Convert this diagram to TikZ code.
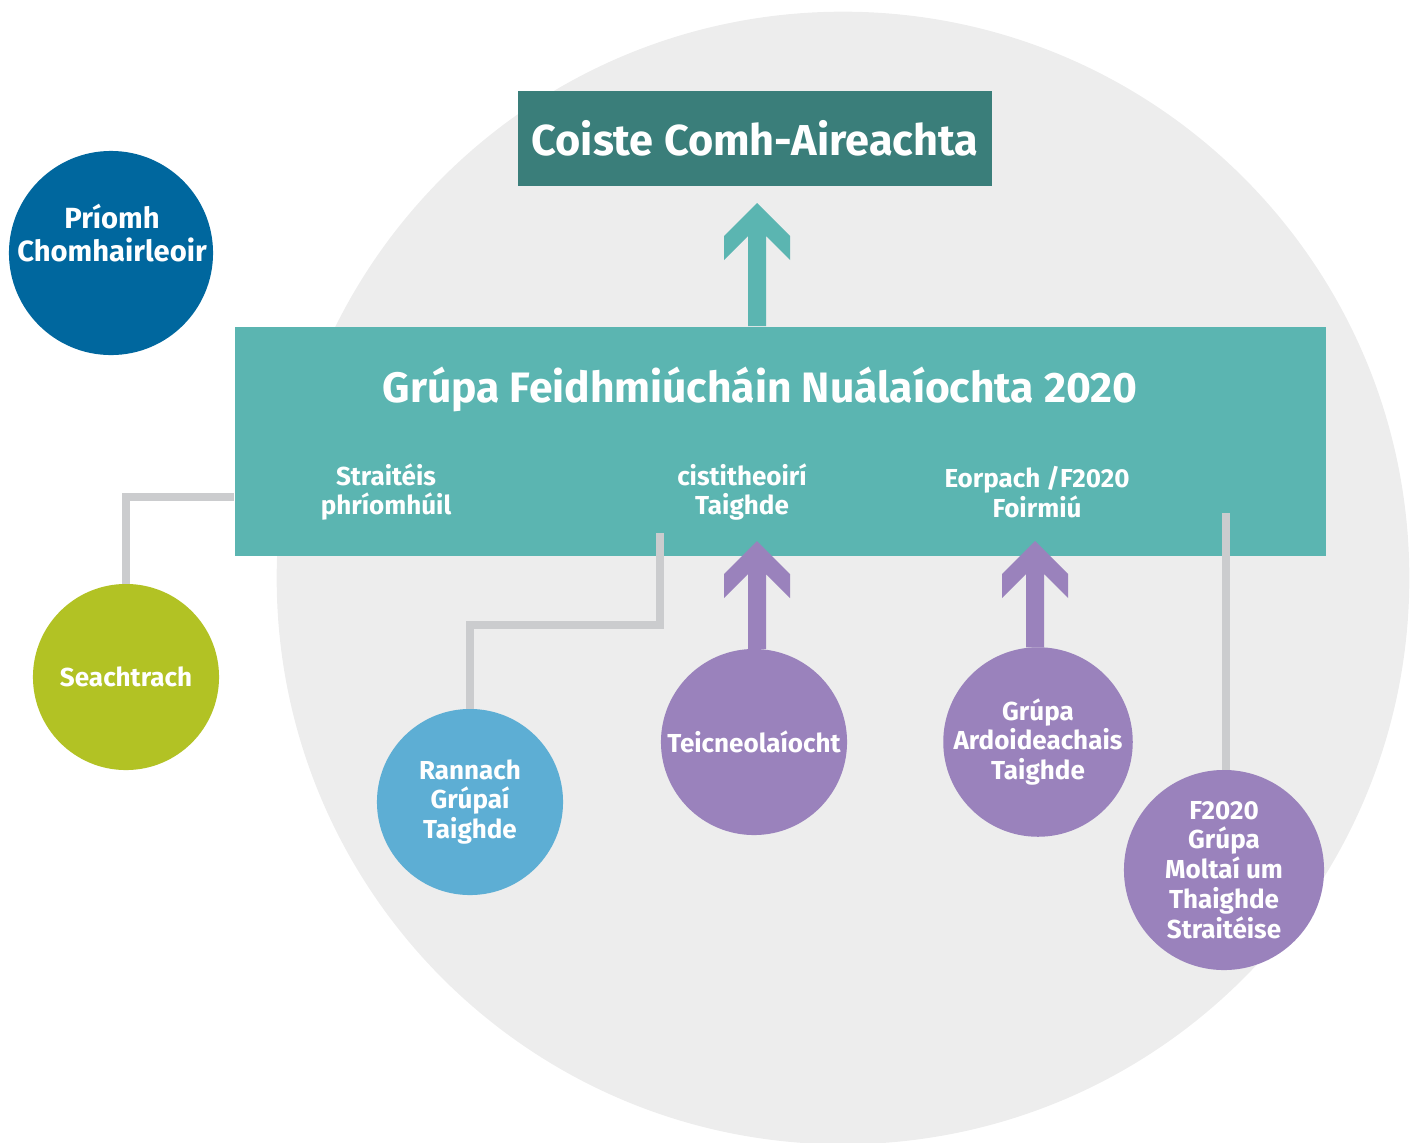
\documentclass[tikz,border=0pt]{standalone}
\usepackage{fontspec}
\setmainfont{Fira Sans}
\usetikzlibrary{calc}

\definecolor{tealbox}{HTML}{5BB5B1}
\definecolor{tealdark}{HTML}{3A7E7A}
\definecolor{purplec}{HTML}{9A82BC}
\definecolor{bluec}{HTML}{00679E}
\definecolor{skyc}{HTML}{5DAED4}
\definecolor{limec}{HTML}{B2C224}
\definecolor{bggray}{HTML}{EDEDED}
\definecolor{linkgray}{HTML}{CBCCCE}

\tikzset{
  circ/.style={circle, inner sep=0pt, outer sep=0pt, text=white, align=center,
    font=\bfseries\fontsize{7.4}{8.5}\selectfont},
  lbl/.style={text=white, align=center, font=\bfseries\fontsize{7.4}{8.5}\selectfont},
  link/.style={draw=linkgray, line width=0.08cm}
}

% chevron arrow: from, tip, colour
\newcommand{\chevarrow}[3]{%
  \fill[#3] ($(#1 -| #2)+(-9,0)$) -- ($(#2)+(-9,33)$) -- ($(#2)+(-33,57)$)
    -- ($(#2)+(-33,33)$) -- (#2) -- ($(#2)+(33,33)$) -- ($(#2)+(33,57)$)
    -- ($(#2)+(9,33)$) -- ($(#1 -| #2)+(9,0)$) -- cycle;}

\begin{document}
\begin{tikzpicture}[x=0.01cm,y=-0.01cm]
    \useasboundingbox (0,0) rectangle (1415,1142);

    % grauer Hintergrundkreis
    \fill[bggray] (843,578) circle (5.66cm);

    % Kopfkasten
    \node[fill=tealdark, minimum width=4.74cm, minimum height=0.95cm, inner sep=0pt,
      text=white, font=\bfseries\fontsize{12.3}{14}\selectfont] (council) at (755,138.5)
      {Coiste Comh-Aireachta};

    % Hauptkasten
    \node[fill=tealbox, minimum width=10.91cm, minimum height=2.29cm, inner sep=0pt] (group) at (780.5,441.5) {};
    \node[text=white, font=\bfseries\fontsize{12.1}{14}\selectfont] (title) at (760,389)
      {Grúpa Feidhmiúcháin Nuálaíochta 2020};
    \node[lbl] (strat) at (386,492) {Straitéis\\phríomhúil};
    \node[lbl] (fund) at (742,492) {cistitheoirí\\Taighde};
    \node[lbl] (euro) at (1037,492) {Eorpach /F2020\\Foirmiú};

    % Pfeil nach oben
    \coordinate (tipTop) at (757,203);
    \chevarrow{group.north}{tipTop}{tealbox}

    % Kreise
    \node[circ, fill=bluec, minimum size=2.04cm] (chief) at (111,253) {};
    \node[lbl, font=\bfseries\fontsize{8.3}{9.6}\selectfont] (chiefText) at (112,233) {Príomh\\Chomhairleoir};
    \node[circ, fill=limec, minimum size=1.86cm] (ext) at (126,677) {Seachtrach};
    \node[circ, fill=purplec, minimum size=1.86cm] (tech) at (754,742) {Teicneolaíocht};
    \node[circ, fill=skyc, minimum size=1.86cm] (dept) at (470,802) {Rannach\\Grúpaí\\Taighde};
    \node[circ, fill=purplec, minimum size=1.86cm] (higher) at (1038,742) {Grúpa\\Ardoideachais\\Taighde};
    \node[circ, fill=purplec, minimum size=2.00cm] (f2020) at (1224,870) {F2020\\Grúpa\\Moltaí um\\Thaighde\\Straitéise};

    % graue Verbindungen
    \draw[link] (ext.north) |- (group.west |- 0,497);
    \coordinate (deptEnd) at (660,533);
    \draw[link] (dept.north) |- (deptEnd |- 0,625) -- (deptEnd);
    \coordinate (f2020End) at (1226,513);
    \draw[link] (f2020.north -| f2020End) -- (f2020End);

    % violette Pfeile
    \coordinate (tipTech) at (757,541);
    \chevarrow{tech.north}{tipTech}{purplec}
    \coordinate (tipHigher) at (1035,541);
    \chevarrow{higher.north}{tipHigher}{purplec}
\end{tikzpicture}
\end{document}
